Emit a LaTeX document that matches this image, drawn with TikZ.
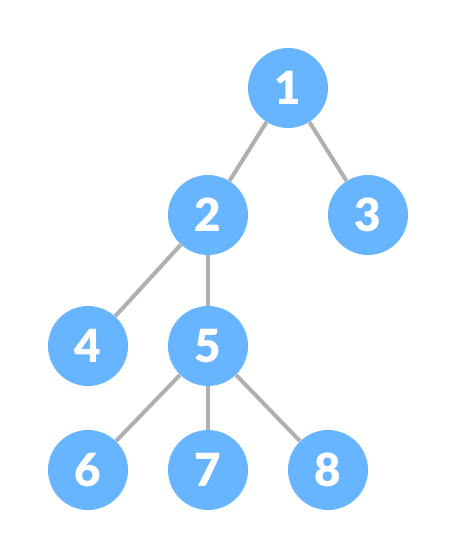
\documentclass[tikz,border=0pt]{standalone}
\usepackage{fontspec}
\setmainfont{Lato}[UprightFont=* Black]
\definecolor{nodeblue}{RGB}{103,180,255}
\definecolor{edgegray}{RGB}{176,176,176}
\tikzset{
  treenode/.style={circle, fill=nodeblue, minimum size=1.6cm, inner sep=0pt,
    text=white, font=\fontsize{26}{26}\selectfont},
  treeedge/.style={edgegray, line width=2.3pt}
}
\begin{document}
\begin{tikzpicture}[x=0.02cm, y=-0.02cm]
            \useasboundingbox (0,0) rectangle (456,560);
            % nodes
            \node[treenode] (n1) at (288,88) {1};
            \node[treenode] (n2) at (208,215) {2};
            \node[treenode] (n3) at (368,215) {3};
            \node[treenode] (n4) at (88,346) {4};
            \node[treenode] (n5) at (208,346) {5};
            \node[treenode] (n6) at (88,470) {6};
            \node[treenode] (n7) at (208,470) {7};
            \node[treenode] (n8) at (328,470) {8};
            % edges
            \draw[treeedge] (n1) -- (n2);
            \draw[treeedge] (n1) -- (n3);
            \draw[treeedge] (n2) -- (n4);
            \draw[treeedge] (n2) -- (n5);
            \draw[treeedge] (n5) -- (n6);
            \draw[treeedge] (n5) -- (n7);
            \draw[treeedge] (n5) -- (n8);
\end{tikzpicture}
\end{document}
